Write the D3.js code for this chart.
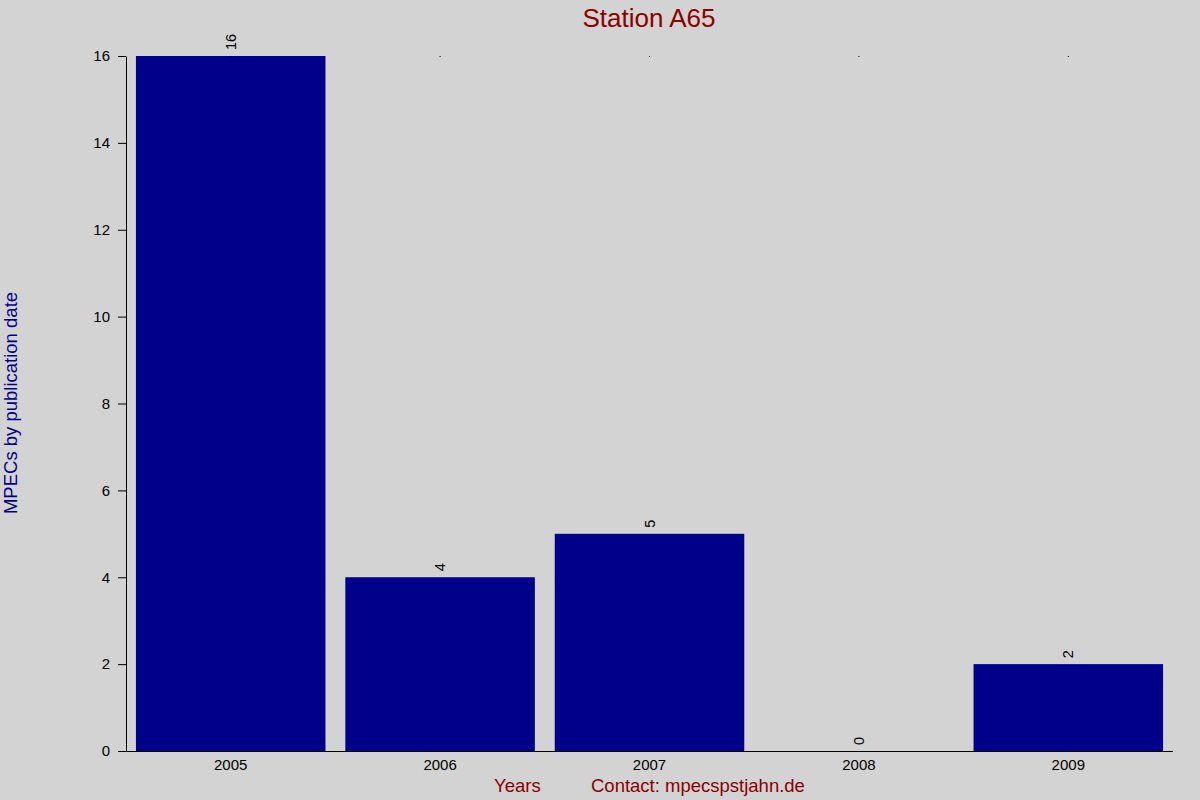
<!DOCTYPE html>
<html>
<head>
<meta charset="utf-8">
<script src="https://cdn.jsdelivr.net/npm/d3@7"></script>
<style>
body { margin: 0; background: #d3d3d3; }
text { font-family: "Liberation Sans", Arial, sans-serif; }
</style>
</head>
<body>
<div id="chart"></div>
<script>
var years = ["2005", "2006", "2007", "2008", "2009"];
var counts = [16, 4, 5, 0, 2];
var yTicks = [0, 2, 4, 6, 8, 10, 12, 14, 16];

var width = 1200,
    height = 800,
    plotLeft = 126,
    plotRight = 1173,
    plotTop = 56,
    plotBottom = 751;

var svg = d3.select("#chart")
    .append("svg")
    .attr("width", width)
    .attr("height", height)
    .style("background", "#d3d3d3");

var x = d3.scaleBand()
    .domain(years)
    .range([plotLeft, plotRight])
    .paddingInner(0.095)
    .paddingOuter(0.0475);

var y = d3.scaleLinear()
    .domain([0, 16])
    .range([plotBottom, plotTop]);

// bars
svg.selectAll("rect.bar")
    .data(counts)
    .enter().append("rect")
    .attr("class", "bar")
    .attr("x", function (d, i) { return x(years[i]); })
    .attr("y", function (d) { return y(d); })
    .attr("width", x.bandwidth())
    .attr("height", function (d) { return y(0) - y(d); })
    .attr("fill", "#00008b");

// tiny marks at the top of every column
svg.selectAll("rect.dot")
    .data(years)
    .enter().append("rect")
    .attr("class", "dot")
    .attr("x", function (d) { return x(d) + x.bandwidth() / 2 - 0.5; })
    .attr("y", y(16))
    .attr("width", 1)
    .attr("height", 1)
    .attr("fill", "#000");

// value labels
svg.selectAll("text.val")
    .data(counts)
    .enter().append("text")
    .attr("class", "val")
    .attr("transform", function (d, i) {
        return "translate(" + (x(years[i]) + x.bandwidth() / 2 + 5) + "," + (y(d) - 6) + ") rotate(-90)";
    })
    .attr("font-size", 14.5)
    .attr("fill", "#000")
    .text(function (d) { return d; });

// y axis
var yAxis = svg.append("g")
    .attr("transform", "translate(" + plotLeft + ",0)")
    .call(d3.axisLeft(y).tickValues(yTicks).tickSize(8).tickSizeOuter(0).tickPadding(8));
yAxis.selectAll("text").attr("font-size", 15).attr("fill", "#000").style("font-family", "Liberation Sans, Arial, sans-serif");
yAxis.select(".domain").attr("stroke", "#000");
yAxis.selectAll(".tick line").attr("stroke", "#000");

// x axis
var xAxis = svg.append("g")
    .attr("transform", "translate(0," + plotBottom + ")")
    .call(d3.axisBottom(x).tickSize(0).tickPadding(8));
xAxis.select(".domain").attr("d", "M" + (plotLeft - 8) + ",0.5H" + plotRight).attr("stroke", "#000");
xAxis.selectAll("text").attr("font-size", 15).attr("fill", "#000").style("font-family", "Liberation Sans, Arial, sans-serif");

// titles
svg.append("text")
    .attr("x", 649)
    .attr("y", 27)
    .attr("text-anchor", "middle")
    .attr("font-size", 26)
    .attr("fill", "#8b0000")
    .text("Station A65");

svg.append("text")
    .attr("transform", "translate(17,403) rotate(-90)")
    .attr("text-anchor", "middle")
    .attr("font-size", 18.5)
    .attr("fill", "#00008b")
    .text("MPECs by publication date");

svg.append("text")
    .attr("x", 494)
    .attr("y", 792)
    .attr("font-size", 18.5)
    .attr("fill", "#8b0000")
    .text("Years");

svg.append("text")
    .attr("x", 591)
    .attr("y", 792)
    .attr("font-size", 18.5)
    .attr("fill", "#8b0000")
    .text("Contact: mpecspstjahn.de");
</script>
</body>
</html>
